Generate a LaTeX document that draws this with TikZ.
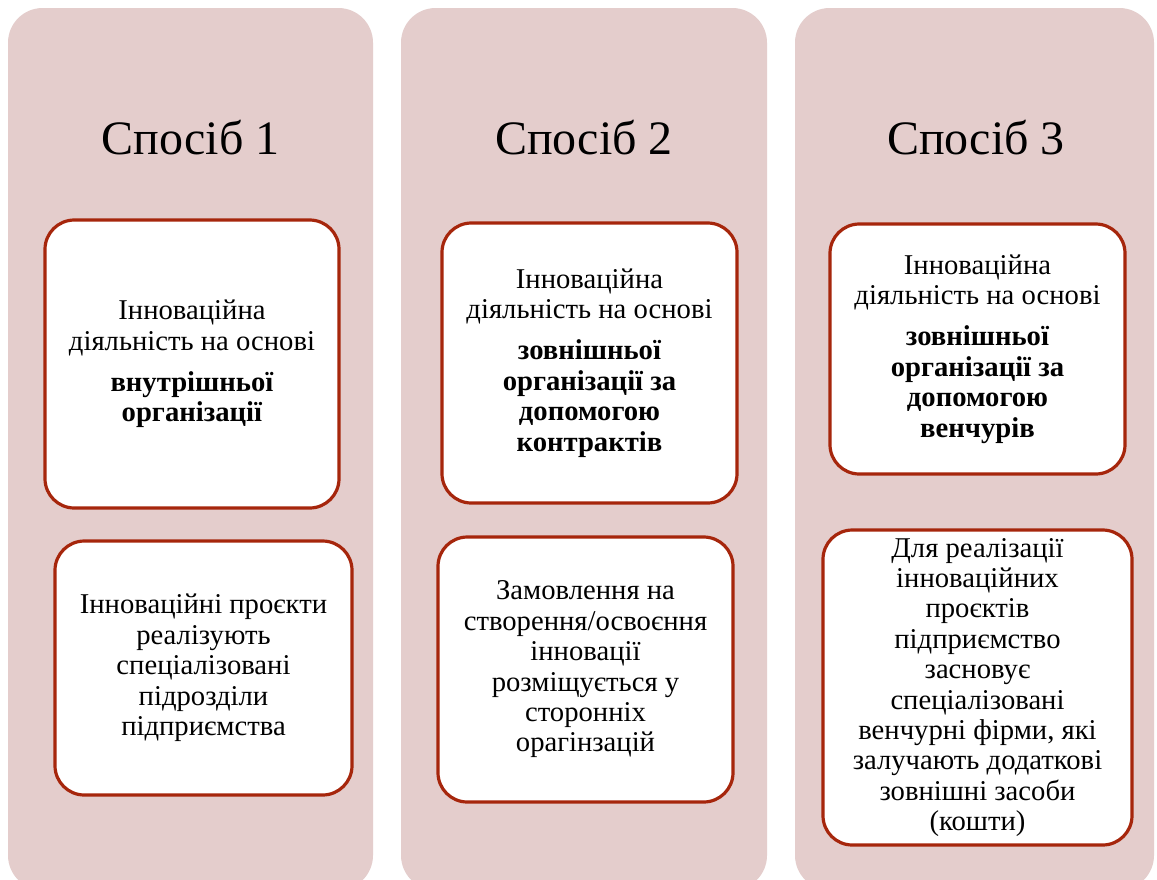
\documentclass[tikz,border=0pt]{standalone}
\usepackage{fontspec}
\setmainfont{Liberation Serif}
\definecolor{colpink}{RGB}{228,205,204}
\definecolor{boxred}{RGB}{166,38,12}
\begin{document}
\begin{tikzpicture}[x=0.75pt,y=-0.75pt,
  column/.style={fill=colpink, rounded corners=26pt},
  title/.style={anchor=base, font=\fontsize{36pt}{40pt}\selectfont},
  card/.style={draw=boxred, line width=2.4pt, fill=white, rounded corners=22pt,
    align=center, inner sep=0pt, font=\fontsize{21.5pt}{22.8pt}\selectfont}]
\useasboundingbox (0,0) rectangle (1157,879);
\fill[white] (0,0) rectangle (1157,879);
\begin{scope}
\clip (0,0) rectangle (1157,879);
\fill[column] (8,8) rectangle (373,890);
\fill[column] (401,8) rectangle (767,890);
\fill[column] (795,8) rectangle (1154,890);
\end{scope}
\node[title] (t1) at (190.5,154) {Спосіб 1};
\node[title] (t2) at (584,154) {Спосіб 2};
\node[title] (t3) at (976,154) {Спосіб 3};
\node[card, minimum width=220.5pt, minimum height=216pt] (b1) at (192,364)
  {Інноваційна\\діяльність на основі\\[8pt]\textbf{внутрішньої}\\\textbf{організації}};
\node[card, minimum width=222.75pt, minimum height=190.5pt] (b1b) at (203.5,668)
  {Інноваційні проєкти\\реалізують\\спеціалізовані\\підрозділи\\підприємства};
\node[card, minimum width=221.25pt, minimum height=210pt] (b2) at (589.5,363)
  {Інноваційна\\діяльність на основі\\[8pt]\textbf{зовнішньої}\\\textbf{організації за}\\\textbf{допомогою}\\\textbf{контрактів}};
\node[card, minimum width=221.25pt, minimum height=198.75pt] (b2b) at (585.5,669.5)
  {Замовлення на\\створення/освоєння\\інновації\\розміщується у\\сторонніх\\орагінзацій};
\node[card, minimum width=221.25pt, minimum height=187.5pt] (b3) at (977.5,349)
  {Інноваційна\\діяльність на основі\\[8pt]\textbf{зовнішньої}\\\textbf{організації за}\\\textbf{допомогою}\\\textbf{венчурів}};
\node[card, minimum width=231.75pt, minimum height=236.25pt] (b3b) at (977.5,687.5)
  {Для реалізації\\інноваційних\\проєктів\\підприємство\\засновує\\спеціалізовані\\венчурні фірми, які\\залучають додаткові\\зовнішні засоби\\(кошти)};
\end{tikzpicture}
\end{document}
